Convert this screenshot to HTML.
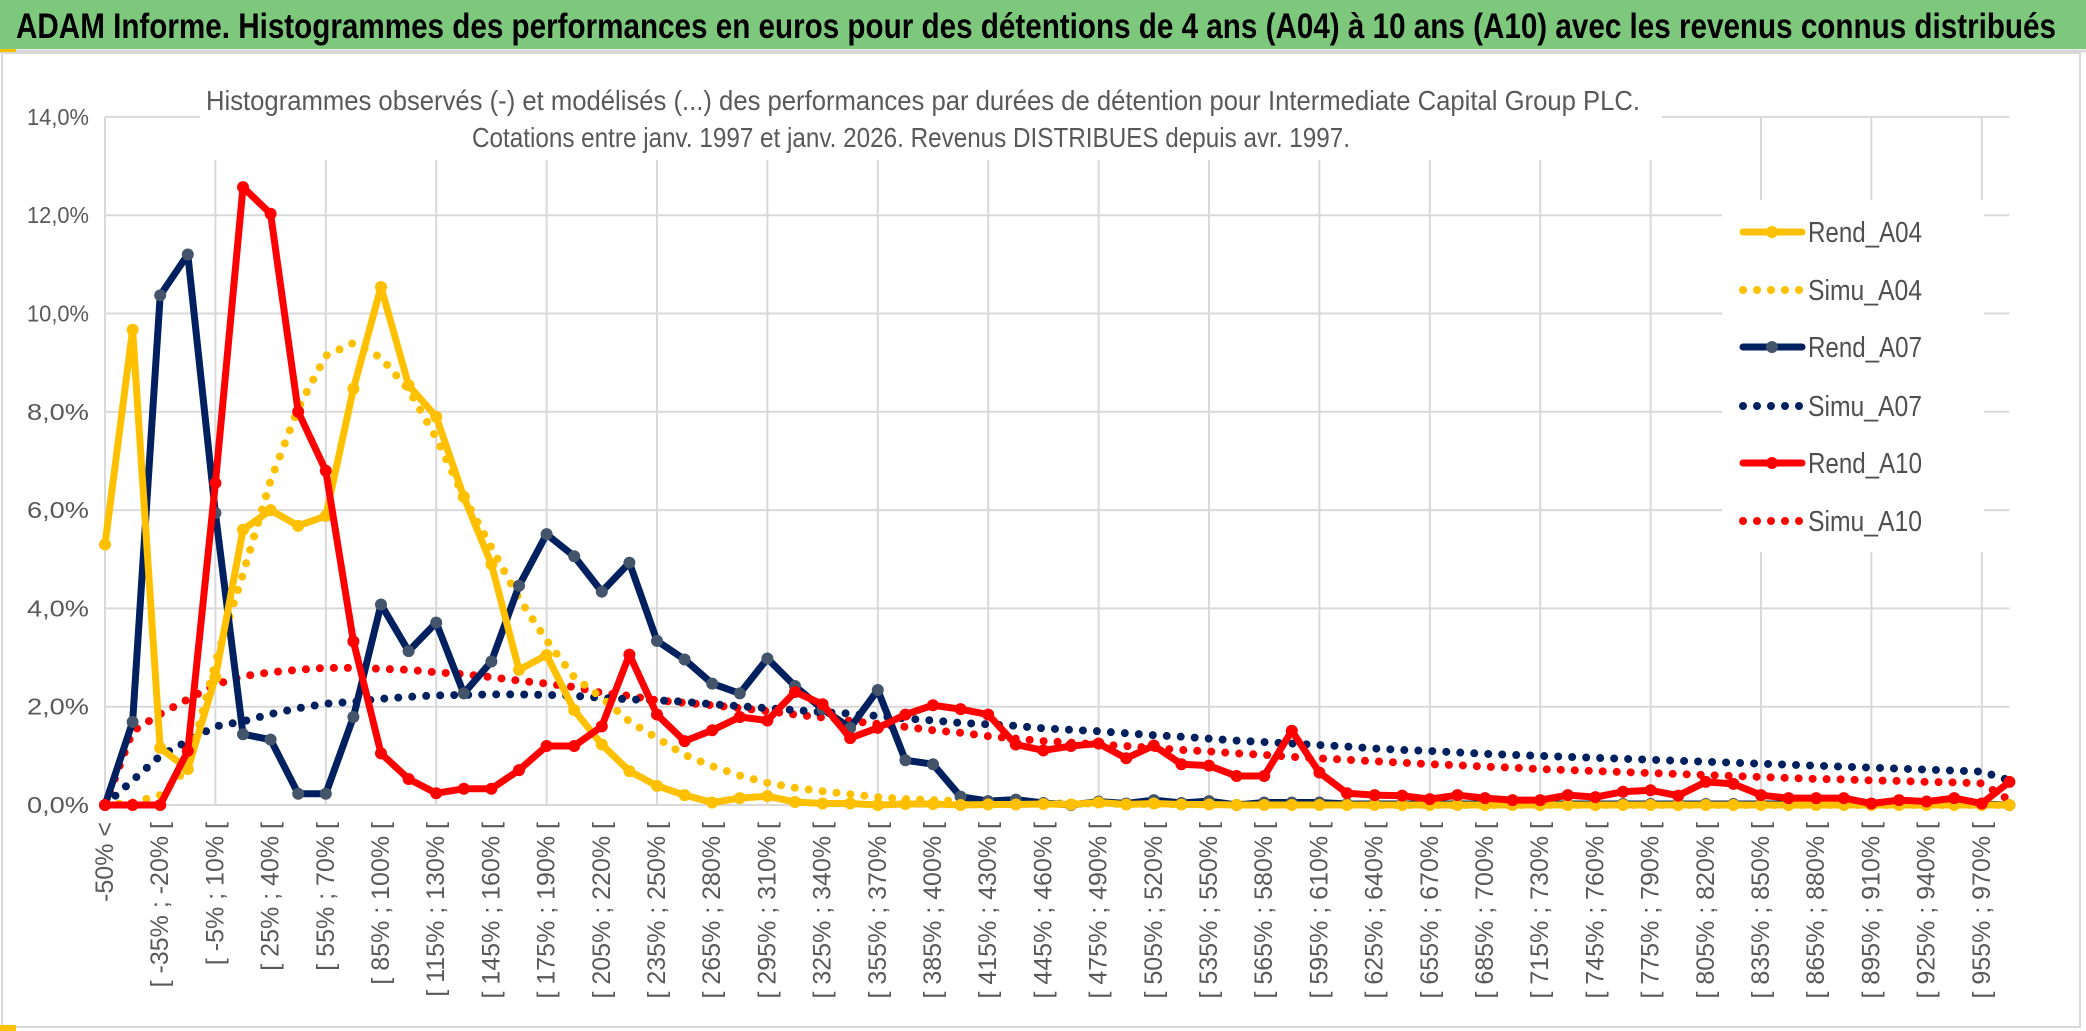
<!DOCTYPE html>
<html><head><meta charset="utf-8"><style>
html,body{margin:0;padding:0;background:#fff;}
svg{display:block;font-family:"Liberation Sans",sans-serif;}
</style></head><body>
<svg id="chart" width="2086" height="1031" viewBox="0 0 2086 1031" xmlns="http://www.w3.org/2000/svg">
<rect x="0" y="0" width="2086" height="1031" fill="#fff"/>
<rect x="0" y="0" width="2086" height="49" fill="#7ec87e"/>
<line x1="0" y1="51" x2="2086" y2="51" stroke="#d9d9d9" stroke-width="3"/>
<rect x="0" y="49" width="16" height="4" fill="#ffc000"/>
<rect x="2" y="53" width="2078" height="974" fill="none" stroke="#d9d9d9" stroke-width="2"/>
<rect x="0" y="1025" width="16" height="6" fill="#ffc000"/>
<text x="16" y="38" font-size="35" font-weight="bold" fill="#000" textLength="2040" lengthAdjust="spacingAndGlyphs">ADAM Informe. Histogrammes des performances en euros pour des détentions de 4 ans (A04) à 10 ans (A10) avec les revenus connus distribués</text>
<g id="grid"></g>
<rect x="200" y="58" width="1462" height="102" fill="#fff"/>
<text x="923" y="110" font-size="28" fill="#595959" text-anchor="middle" textLength="1434" lengthAdjust="spacingAndGlyphs">Histogrammes observés (-) et modélisés (...) des performances par durées de détention pour Intermediate Capital Group PLC.</text>
<text x="911" y="147" font-size="28" fill="#595959" text-anchor="middle" textLength="878" lengthAdjust="spacingAndGlyphs">Cotations entre janv. 1997 et janv. 2026. Revenus DISTRIBUES depuis avr. 1997.</text>
<rect x="1722" y="200" width="262" height="352" fill="#fff"/>
<g id="yaxis"></g>
<g id="xaxis"></g>
<g id="series"></g>
<g id="legend"></g>
</svg>
<script>
const categories = ["-50% <"];
for (let k = 1; k < 70; k++) { const a = -50 + 15 * (k - 1); categories.push("[ " + a + "% ; " + (a + 15) + "% ["); }
const yTicks = [0, 2, 4, 6, 8, 10, 12, 14];
const yTickLabels = ["0,0%", "2,0%", "4,0%", "6,0%", "8,0%", "10,0%", "12,0%", "14,0%"];
const rendA04 = [5.3,9.67,1.16,0.73,2.6,5.6,6.0,5.68,5.88,8.47,10.54,8.54,7.9,6.27,4.9,2.75,3.05,1.93,1.23,0.69,0.39,0.2,0.05,0.14,0.18,0.06,0.03,0.03,0.0,0.02,0.02,0.0,0.01,0.01,0.02,0.01,0.05,0.01,0.03,0.01,0.01,0,0,0,0,0,0,0,0,0,0,0,0,0,0,0,0,0,0,0,0,0,0,0,0,0,0,0,0,0];
const simuA04 = [0,0.05,0.2,0.75,2.9,4.7,6.6,8.07,9.14,9.4,9.1,8.45,7.47,6.27,5.24,4.2,3.35,2.6,2.18,1.7,1.36,1.02,0.79,0.6,0.45,0.35,0.28,0.22,0.16,0.12,0.1,0.08,0.06,0.05,0.04,0.03,0.03,0.02,0.02,0.02,0.01,0.01,0.01,0.01,0.01,0.01,0,0,0,0,0,0,0,0,0,0,0,0,0,0,0,0,0,0,0,0,0,0,0,0];
const rendA07 = [0,1.69,10.37,11.2,5.94,1.44,1.33,0.23,0.23,1.79,4.08,3.13,3.71,2.27,2.92,4.46,5.51,5.06,4.34,4.93,3.34,2.96,2.47,2.27,2.98,2.42,1.95,1.57,2.34,0.91,0.83,0.17,0.08,0.11,0.04,0.0,0.07,0.03,0.1,0.04,0.08,0.0,0.05,0.05,0.05,0.02,0.02,0.02,0.02,0.02,0.02,0.02,0.02,0.02,0.02,0.02,0.02,0.02,0.02,0.02,0.02,0.02,0.02,0.02,0.02,0.02,0.02,0.02,0.02,0];
const simuA07 = [0,0.5,1.0,1.3,1.6,1.7,1.85,1.97,2.06,2.1,2.16,2.2,2.23,2.24,2.25,2.25,2.24,2.22,2.18,2.15,2.13,2.1,2.05,2.01,1.97,1.93,1.89,1.86,1.81,1.76,1.72,1.67,1.64,1.61,1.56,1.53,1.5,1.46,1.42,1.39,1.35,1.31,1.28,1.25,1.22,1.19,1.15,1.12,1.1,1.07,1.04,1.02,1.0,0.98,0.96,0.94,0.92,0.9,0.88,0.86,0.84,0.82,0.8,0.78,0.76,0.74,0.72,0.7,0.68,0.5];
const rendA10 = [0,0,0,1.1,6.55,12.57,12.03,8.0,6.8,3.33,1.05,0.53,0.24,0.33,0.33,0.71,1.2,1.2,1.6,3.06,1.84,1.3,1.52,1.79,1.72,2.3,2.05,1.36,1.57,1.84,2.03,1.95,1.84,1.23,1.11,1.2,1.25,0.95,1.21,0.83,0.8,0.59,0.59,1.51,0.66,0.24,0.2,0.19,0.12,0.2,0.14,0.1,0.1,0.2,0.16,0.27,0.3,0.19,0.47,0.43,0.2,0.14,0.14,0.14,0.03,0.1,0.07,0.14,0.03,0.47];
const simuA10 = [0,1.5,1.85,2.15,2.45,2.62,2.7,2.75,2.79,2.79,2.77,2.75,2.7,2.66,2.6,2.53,2.47,2.4,2.28,2.22,2.13,2.08,2.03,1.97,1.91,1.84,1.78,1.71,1.65,1.59,1.52,1.47,1.4,1.35,1.3,1.27,1.23,1.2,1.16,1.12,1.09,1.05,1.02,0.98,0.95,0.92,0.89,0.86,0.83,0.81,0.78,0.76,0.73,0.71,0.69,0.67,0.65,0.63,0.61,0.59,0.57,0.55,0.53,0.52,0.5,0.49,0.47,0.46,0.44,0.1];
const seriesNames = ["Rend_A04", "Simu_A04", "Rend_A07", "Simu_A07", "Rend_A10", "Simu_A10"];

const NS = "http://www.w3.org/2000/svg";
const X0 = 105, STEP = 27.6, Y0 = 805, PER = 49.15;
function xScale(i) { return X0 + i * STEP; }
function yScale(v) { return Y0 - v * PER; }
function mk(tag, attrs, parent) { const e = document.createElementNS(NS, tag); for (const k in attrs) e.setAttribute(k, attrs[k]); parent.appendChild(e); return e; }

const grid = document.getElementById("grid");
yTicks.forEach((t, i) => {
  const l = mk("line", {x1: X0, x2: xScale(69), y1: yScale(t), y2: yScale(t), stroke: "#d9d9d9", "stroke-width": 2}, grid);
  
  
});
for (let i = 0; i < 70; i += 4) {
  const l = mk("line", {x1: xScale(i), x2: xScale(i), y1: yScale(14), y2: Y0, stroke: "#d9d9d9", "stroke-width": 2}, grid);
  
  
}

const yaxis = document.getElementById("yaxis");
yTicks.forEach((t, i) => {
  const tx = mk("text", {x: 89, y: yScale(t) + 8, "font-size": 23, fill: "#595959", "text-anchor": "end", textLength: 62, lengthAdjust: "spacingAndGlyphs"}, yaxis);
  tx.textContent = yTickLabels[i];
  
  
});

const xaxis = document.getElementById("xaxis");
for (let i = 0; i < 70; i += 2) {
  const x = xScale(i), y = 822;
  const tx = mk("text", {x: x, y: y, "font-size": 25, fill: "#595959", "text-anchor": "end", "dominant-baseline": "central", transform: "rotate(-90 " + x + " " + y + ")"}, xaxis);
  tx.textContent = categories[i];
  
  
}

const seriesG = document.getElementById("series");
function drawSim(vals, color, name) {
  const pts = vals.map((v, i) => xScale(i) + "," + yScale(v)).join(" ");
  const p = mk("polyline", {points: pts, fill: "none", stroke: color, "stroke-width": 8, "stroke-linecap": "round", "stroke-dasharray": "0 14"}, seriesG);
  
  
}
function drawRend(vals, color, mcol, name) {
  const g = mk("g", {}, seriesG);
  
  
  const pts = vals.map((v, i) => xScale(i) + "," + yScale(v)).join(" ");
  mk("polyline", {points: pts, fill: "none", stroke: color, "stroke-width": 7, "stroke-linejoin": "round"}, g);
  vals.forEach((v, i) => {
    const c = mk("circle", {cx: xScale(i), cy: yScale(v), r: 6, fill: mcol}, g);
    
    
  });
}
drawSim(simuA10, "#ff0000", "simu-a10-line");
drawSim(simuA07, "#002060", "simu-a07-line");
drawSim(simuA04, "#ffc000", "simu-a04-line");
drawRend(rendA07, "#002060", "#44546a", "rend-a07-line");
drawRend(rendA04, "#ffc000", "#ffc000", "rend-a04-line");
drawRend(rendA10, "#ff0000", "#ff0000", "rend-a10-line");

const legend = document.getElementById("legend");
const legColors = ["#ffc000", "#ffc000", "#002060", "#002060", "#ff0000", "#ff0000"];
const legMarker = ["#ffc000", null, "#44546a", null, "#ff0000", null];
const legY = [232, 290, 347, 406, 463, 521];
seriesNames.forEach((n, i) => {
  const g = mk("g", {}, legend);
  
  
  const y = legY[i];
  if (legMarker[i]) {
    mk("line", {x1: 1743, x2: 1802, y1: y, y2: y, stroke: legColors[i], "stroke-width": 7, "stroke-linecap": "round"}, g);
    mk("circle", {cx: 1772, cy: y, r: 6, fill: legMarker[i]}, g);
  } else {
    mk("line", {x1: 1743, x2: 1802, y1: y, y2: y, stroke: legColors[i], "stroke-width": 8, "stroke-linecap": "round", "stroke-dasharray": "0 14"}, g);
  }
  const t = mk("text", {x: 1808, y: y + 10, "font-size": 29, fill: "#505050", textLength: 114, lengthAdjust: "spacingAndGlyphs"}, g);
  t.textContent = n;
});
</script>
</body></html>
